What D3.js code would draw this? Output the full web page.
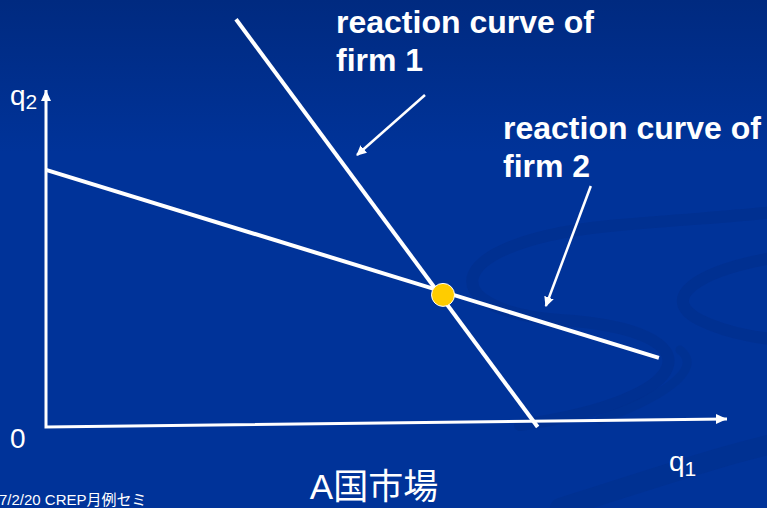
<!DOCTYPE html>
<html>
<head>
<meta charset="utf-8">
<script src="https://cdn.jsdelivr.net/npm/d3@7"></script>
<style>
  html, body { margin: 0; padding: 0; background: #003399; overflow: hidden; }
  svg { display: block; }
</style>
</head>
<body>
<div id="chart"></div>
<script>
// curves in (q1, q2) units, axes run 0..100
const firm1Curve = [[27.9, 121], [72.2, 0]];
const firm2Curve = [[0, 76.3], [90.0, 20.5]];
const equilibrium = [58.3, 39.2];
const xAxisEnd = [100, 2.4];
const yAxisEnd = [0, 100];
const pointer1 = [[55.65, 98.5], [45.67, 80.7]];
const pointer2 = [[80.0, 71.5], [73.4, 35.9]];
const label1 = ['reaction curve of', 'firm 1'];
const label2 = ['reaction curve of', 'firm 2'];

const width = 767, height = 508;

const x = d3.scaleLinear().domain([0, 100]).range([46, 727]);
const y = d3.scaleLinear().domain([0, 100]).range([427, 90]);

const svg = d3.select('#chart').append('svg')
  .attr('width', width)
  .attr('height', height);

const defs = svg.append('defs');
const grad = defs.append('linearGradient')
  .attr('id', 'bg').attr('x1', 0).attr('y1', 0).attr('x2', 0).attr('y2', 1);
grad.append('stop').attr('offset', '0%').attr('stop-color', '#002a80');
grad.append('stop').attr('offset', '30%').attr('stop-color', '#003399');
grad.append('stop').attr('offset', '100%').attr('stop-color', '#003399');

defs.append('marker')
  .attr('id', 'head')
  .attr('viewBox', '0 0 10 10')
  .attr('refX', 9).attr('refY', 5)
  .attr('markerWidth', 4).attr('markerHeight', 4)
  .attr('markerUnits', 'strokeWidth')
  .attr('orient', 'auto')
  .append('path').attr('d', 'M0,0 L10,5 L0,10 z').attr('fill', '#fff');

svg.append('rect').attr('width', width).attr('height', height).attr('fill', 'url(#bg)');

// faint background swirls
const swirl = svg.append('g').attr('fill', 'none').attr('stroke', '#00308e').attr('stroke-linecap', 'round');
swirl.append('path')
  .attr('d', 'M520,425 C700,400 720,330 560,320 C430,310 440,240 620,225 C700,218 760,215 790,210')
  .attr('stroke-width', 12).attr('opacity', 0.8);
swirl.append('path')
  .attr('d', 'M790,255 C690,270 660,300 700,320 C730,335 770,340 790,340')
  .attr('stroke-width', 12).attr('opacity', 0.8);
swirl.append('path')
  .attr('d', 'M560,508 C650,480 720,455 790,440')
  .attr('stroke-width', 20).attr('opacity', 0.7);
swirl.append('path')
  .attr('d', 'M600,420 C680,390 700,365 680,350')
  .attr('stroke-width', 9).attr('opacity', 0.6);

const line = d3.line().x(d => x(d[0])).y(d => y(d[1]));

// axes
svg.append('path')
  .attr('d', line([yAxisEnd, [0, 0], xAxisEnd]))
  .attr('fill', 'none').attr('stroke', '#fff').attr('stroke-width', 3)
  .attr('stroke-linejoin', 'miter');

function axisHead(tip, dir) {
  const [tx, ty] = [x(tip[0]), y(tip[1])];
  const len = 11, half = 5;
  let pts;
  if (dir === 'up') pts = [[tx, ty], [tx - half, ty + len], [tx + half, ty + len]];
  else pts = [[tx, ty], [tx - len, ty - half], [tx - len, ty + half]];
  svg.append('path').attr('d', 'M' + pts.join('L') + 'Z').attr('fill', '#fff');
}
axisHead(yAxisEnd, 'up');
axisHead(xAxisEnd, 'right');

// reaction curves
[firm1Curve, firm2Curve].forEach(c => {
  svg.append('path')
    .attr('d', line(c))
    .attr('fill', 'none').attr('stroke', '#fff').attr('stroke-width', 4);
});

// pointers
[pointer1, pointer2].forEach(p => {
  svg.append('path')
    .attr('d', line(p))
    .attr('fill', 'none').attr('stroke', '#fff').attr('stroke-width', 2.5)
    .attr('marker-end', 'url(#head)');
});

// equilibrium
svg.append('circle')
  .attr('cx', x(equilibrium[0])).attr('cy', y(equilibrium[1]))
  .attr('r', 11.5)
  .attr('fill', '#ffcc00').attr('stroke', '#fff').attr('stroke-width', 1);

// labels
function block(lines, lx, ly) {
  const t = svg.append('text')
    .attr('x', lx).attr('y', ly)
    .attr('fill', '#fff')
    .attr('font-family', 'Liberation Sans, Arial, sans-serif')
    .attr('font-weight', 'bold')
    .attr('font-size', 32);
  lines.forEach((s, i) => t.append('tspan').attr('x', lx).attr('dy', i ? 38 : 0).text(s));
}
block(label1, 336, 33);
block(label2, 503, 139);

const plain = 'Liberation Sans, Arial, sans-serif';
const q2 = svg.append('text').attr('x', 10).attr('y', 105)
  .attr('fill', '#fff').attr('font-family', plain).attr('font-size', 28);
q2.append('tspan').text('q');
q2.append('tspan').attr('font-size', 21).attr('dy', 4).text('2');

svg.append('text').attr('x', 10).attr('y', 448)
  .attr('fill', '#fff').attr('font-family', plain).attr('font-size', 28).text('0');

const q1 = svg.append('text').attr('x', 669).attr('y', 471)
  .attr('fill', '#fff').attr('font-family', plain).attr('font-size', 28);
q1.append('tspan').text('q');
q1.append('tspan').attr('font-size', 21).attr('dy', 5).text('1');

svg.append('text').attr('x', 374).attr('y', 499)
  .attr('text-anchor', 'middle')
  .attr('fill', '#fff')
  .attr('font-family', 'Liberation Sans, Noto Sans CJK JP, sans-serif')
  .attr('font-size', 35)
  .text('A国市場');

svg.append('text').attr('x', -1).attr('y', 505)
  .attr('fill', '#fff')
  .attr('font-family', 'Liberation Sans, Noto Sans CJK JP, sans-serif')
  .attr('font-size', 15)
  .text('7/2/20 CREP月例セミ');
</script>
</body>
</html>
